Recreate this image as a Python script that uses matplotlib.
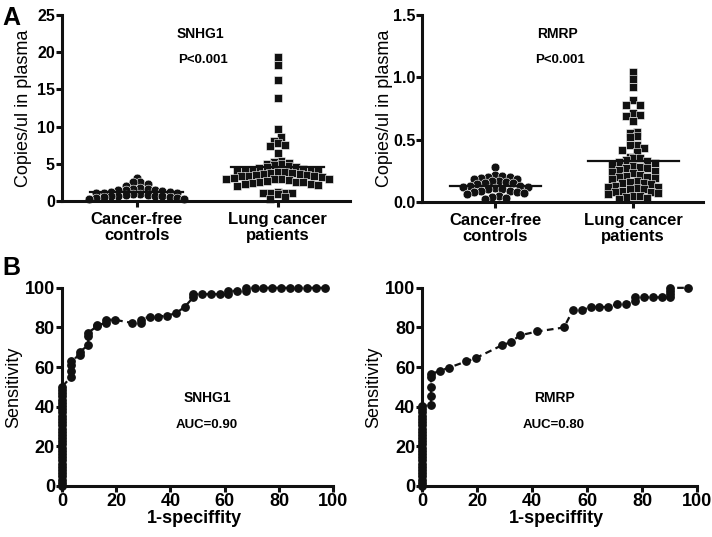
import numpy as np
import matplotlib
matplotlib.use('Agg')
import matplotlib.pyplot as plt

plt.rcParams['font.family'] = ['Liberation Sans', 'DejaVu Sans']

groups = ['Cancer-free\ncontrols', 'Lung cancer\npatients']

# copies/ul in plasma
snhg1_controls = [3.1, 2.6, 2.5, 2.2, 2.0, 1.7, 1.6, 1.6, 1.5, 1.5, 1.4, 1.3, 1.2, 1.2,
                  1.1, 1.0, 1.0, 0.9, 0.9, 0.8, 0.8, 0.7, 0.7, 0.6, 0.6, 0.5, 0.5, 0.4,
                  0.4, 0.3, 0.2]
snhg1_patients = [19.4, 18.3, 16.2, 13.8, 9.6, 8.6, 8.1, 7.8, 7.5, 7.4, 6.5, 5.3, 5.2,
                  5.1, 5.0, 4.9, 4.8, 4.7, 4.6, 4.5, 4.4, 4.3, 4.2, 4.2, 4.1, 4.0, 4.0,
                  3.9, 3.9, 3.8, 3.7, 3.6, 3.6, 3.5, 3.5, 3.4, 3.3, 3.3, 3.2, 3.1, 3.0,
                  3.0, 2.9, 2.9, 2.8, 2.7, 2.6, 2.6, 2.5, 2.4, 2.3, 2.2, 2.1, 2.0, 1.2,
                  1.1, 1.1, 1.0, 1.0, 0.9, 0.5, 0.3]
rmrp_controls = [0.28, 0.22, 0.21, 0.20, 0.20, 0.19, 0.18, 0.18, 0.17, 0.17, 0.16, 0.15,
                 0.15, 0.14, 0.13, 0.13, 0.12, 0.12, 0.11, 0.10, 0.10, 0.09, 0.09, 0.08,
                 0.08, 0.07, 0.06, 0.05, 0.04, 0.03, 0.02]
rmrp_patients = [1.04, 0.99, 0.92, 0.82, 0.78, 0.78, 0.71, 0.70, 0.69, 0.65, 0.56, 0.55,
                 0.53, 0.52, 0.46, 0.46, 0.43, 0.42, 0.40, 0.36, 0.35, 0.35, 0.34, 0.33,
                 0.32, 0.31, 0.30, 0.29, 0.28, 0.27, 0.27, 0.26, 0.25, 0.24, 0.23, 0.22,
                 0.21, 0.20, 0.20, 0.19, 0.18, 0.17, 0.16, 0.15, 0.15, 0.14, 0.13, 0.12,
                 0.12, 0.11, 0.10, 0.10, 0.09, 0.08, 0.08, 0.07, 0.06, 0.05, 0.05, 0.04,
                 0.03, 0.02]

# ROC points (1-specificity %, sensitivity %), panel B
snhg1_fpr = [0]*32 + [3.2, 3.2, 3.2, 3.2, 6.5, 6.5, 9.7, 9.7, 9.7, 12.9, 12.9, 16.1, 16.1,
                      19.4, 25.8, 29.0, 29.0, 32.3, 35.5, 38.7, 41.9, 45.2, 48.4, 48.4,
                      51.6, 54.8, 58.1, 61.3, 61.3, 64.5, 67.7, 67.7, 71.0, 74.2, 77.4,
                      80.6, 83.9, 87.1, 90.3, 93.5, 96.8]
snhg1_tpr = [0, 1.6, 3.2, 4.8, 6.5, 8.1, 9.7, 11.3, 12.9, 14.5, 16.1, 17.7, 19.4, 21.0,
             22.6, 24.2, 25.8, 27.4, 29.0, 30.6, 32.3, 33.9, 35.5, 37.1, 38.7, 40.3,
             41.9, 43.5, 45.2, 46.8, 48.4, 50.0,
             54.8, 58.1, 61.3, 62.9, 66.1, 67.7, 71.0, 75.8, 77.4, 80.6, 81.0, 82.3,
             83.9, 83.9, 82.3, 82.3, 83.9, 85.5, 85.5, 86.0, 87.1, 90.3, 95.2, 96.8,
             96.8, 96.8, 96.8, 96.8, 98.4, 98.4, 98.4, 100, 100, 100, 100, 100, 100,
             100, 100, 100, 100]
rmrp_fpr = [0]*26 + [3.2, 3.2, 3.2, 3.2, 3.2, 6.5, 9.7, 16.1, 19.4, 29.0, 32.3, 35.5,
                     41.9, 51.6, 54.8, 58.1, 61.3, 64.5, 67.7, 71.0, 74.2, 77.4, 77.4,
                     80.6, 83.9, 87.1, 90.3, 90.3, 90.3, 90.3, 96.8]
rmrp_tpr = [0, 1.6, 3.2, 4.8, 6.5, 8.1, 9.7, 11.3, 12.9, 14.5, 16.1, 17.7, 19.4, 21.0,
            22.6, 24.2, 25.8, 27.4, 29.0, 30.6, 32.3, 33.9, 35.5, 37.1, 38.7, 40.3,
            41.0, 45.2, 50.0, 54.8, 56.5, 58.1, 59.7, 62.9, 64.5, 71.0, 72.6, 76.0,
            78.0, 80.0, 88.7, 88.7, 90.3, 90.3, 90.3, 91.9, 91.9, 93.5, 95.2, 95.2,
            95.2, 95.2, 95.2, 96.8, 98.4, 100, 100]

BLACK = '#111111'


def row_offsets(values, bin_size, step):
    # spread points of the same value band side by side (GraphPad style)
    values = np.asarray(values, float)
    bins = np.floor(values / bin_size + 1e-9).astype(int)
    xs = np.zeros(len(values))
    for b in np.unique(bins):
        idx = np.where(bins == b)[0]
        n = len(idx)
        slots = np.arange(n) - (n - 1) / 2
        order = np.argsort(np.abs(slots - 0.01), kind='stable')
        xs[idx] = slots[order] * step
    return xs


def style_axes(ax):
    for s in ['top', 'right']:
        ax.spines[s].set_visible(False)
    for s in ['left', 'bottom']:
        ax.spines[s].set_linewidth(2.2)
        ax.spines[s].set_color(BLACK)
    ax.tick_params(direction='out', width=2.2, length=4, color=BLACK)


def dot_plot(ax, controls, patients, bin_size, ymax, yticks, yticklabels, name):
    style_axes(ax)
    for g, (vals, mk) in enumerate([(controls, 'o'), (patients, 's')]):
        xs = g + row_offsets(vals, bin_size, 0.052)
        ax.plot(xs, vals, mk, ms=6.3 if mk == 'o' else 5.9, mfc=BLACK,
                mec='white', mew=0.4, ls='none', clip_on=False, zorder=2)
        m = np.mean(vals)
        ax.plot([g - 0.33, g + 0.33], [m, m], color=BLACK, lw=1.6, zorder=3)
    ax.set_xlim(-0.53, 1.51)
    ax.set_ylim(0, ymax)
    ax.set_xticks([0, 1])
    ax.set_xticklabels(groups, fontsize=12, fontweight='bold', linespacing=1.05)
    ax.tick_params(axis='x', pad=4)
    ax.set_yticks(yticks)
    ax.set_yticklabels(yticklabels, fontsize=11.5, fontweight='bold')
    ax.tick_params(axis='y', pad=1)
    ax.set_ylabel('Copies/ul in plasma', fontsize=13)
    ax.yaxis.set_label_coords(-0.103, 0.5)
    ax.text(0.48, 0.90, name, transform=ax.transAxes, ha='center', va='center',
            fontsize=10, fontweight='bold')
    ax.text(0.49, 0.76, 'P<0.001', transform=ax.transAxes, ha='center', va='center',
            fontsize=9.5, fontweight='bold')


def roc_plot(ax, fpr, tpr, name, auc, tx, ylab_x):
    style_axes(ax)
    ax.plot(fpr, tpr, color=BLACK, ls=(0, (3, 2)), lw=1.6, marker='o', ms=5.3,
            mfc=BLACK, mec=BLACK, clip_on=False, zorder=3)
    ax.set_xlim(0, 100)
    ax.set_ylim(0, 100)
    ax.set_xticks(range(0, 101, 20))
    ax.set_yticks(range(0, 101, 20))
    for lab in ax.get_xticklabels() + ax.get_yticklabels():
        lab.set_fontsize(13)
        lab.set_fontweight('bold')
    ax.tick_params(pad=1)
    ax.set_xlabel('1-speciffity', fontsize=13, fontweight='bold')
    ax.xaxis.set_label_coords(0.487, -0.122)
    ax.set_ylabel('Sensitivity', fontsize=13)
    ax.yaxis.set_label_coords(ylab_x, 0.5)
    ax.text(tx, 44.4, name, ha='center', va='center', fontsize=10, fontweight='bold')
    ax.text(tx, 30.8, auc, ha='center', va='center', fontsize=9.5, fontweight='bold')


fig = plt.figure(figsize=(7.12, 5.37), dpi=100)

ax1 = fig.add_axes([0.087, 0.626, 0.404, 0.346])
dot_plot(ax1, snhg1_controls, snhg1_patients, 1.0, 25, [0, 5, 10, 15, 20, 25],
         ['0', '5', '10', '15', '20', '25'], 'SNHG1')

ax2 = fig.add_axes([0.593, 0.624, 0.395, 0.348])
dot_plot(ax2, rmrp_controls, rmrp_patients, 0.06, 1.5, [0, 0.5, 1.0, 1.5],
         ['0.0', '0.5', '1.0', '1.5'], 'RMRP')

ax3 = fig.add_axes([0.087, 0.095, 0.381, 0.369])
roc_plot(ax3, snhg1_fpr, snhg1_tpr, 'SNHG1', 'AUC=0.90', 53.5, -0.148)

ax4 = fig.add_axes([0.593, 0.095, 0.386, 0.369])
roc_plot(ax4, rmrp_fpr, rmrp_tpr, 'RMRP', 'AUC=0.80', 48, -0.145)

fig.text(0.004, 0.988, 'A', fontsize=18, fontweight='bold', va='top')
fig.text(0.004, 0.523, 'B', fontsize=18, fontweight='bold', va='top')

fig.savefig('out.png', dpi=100)
